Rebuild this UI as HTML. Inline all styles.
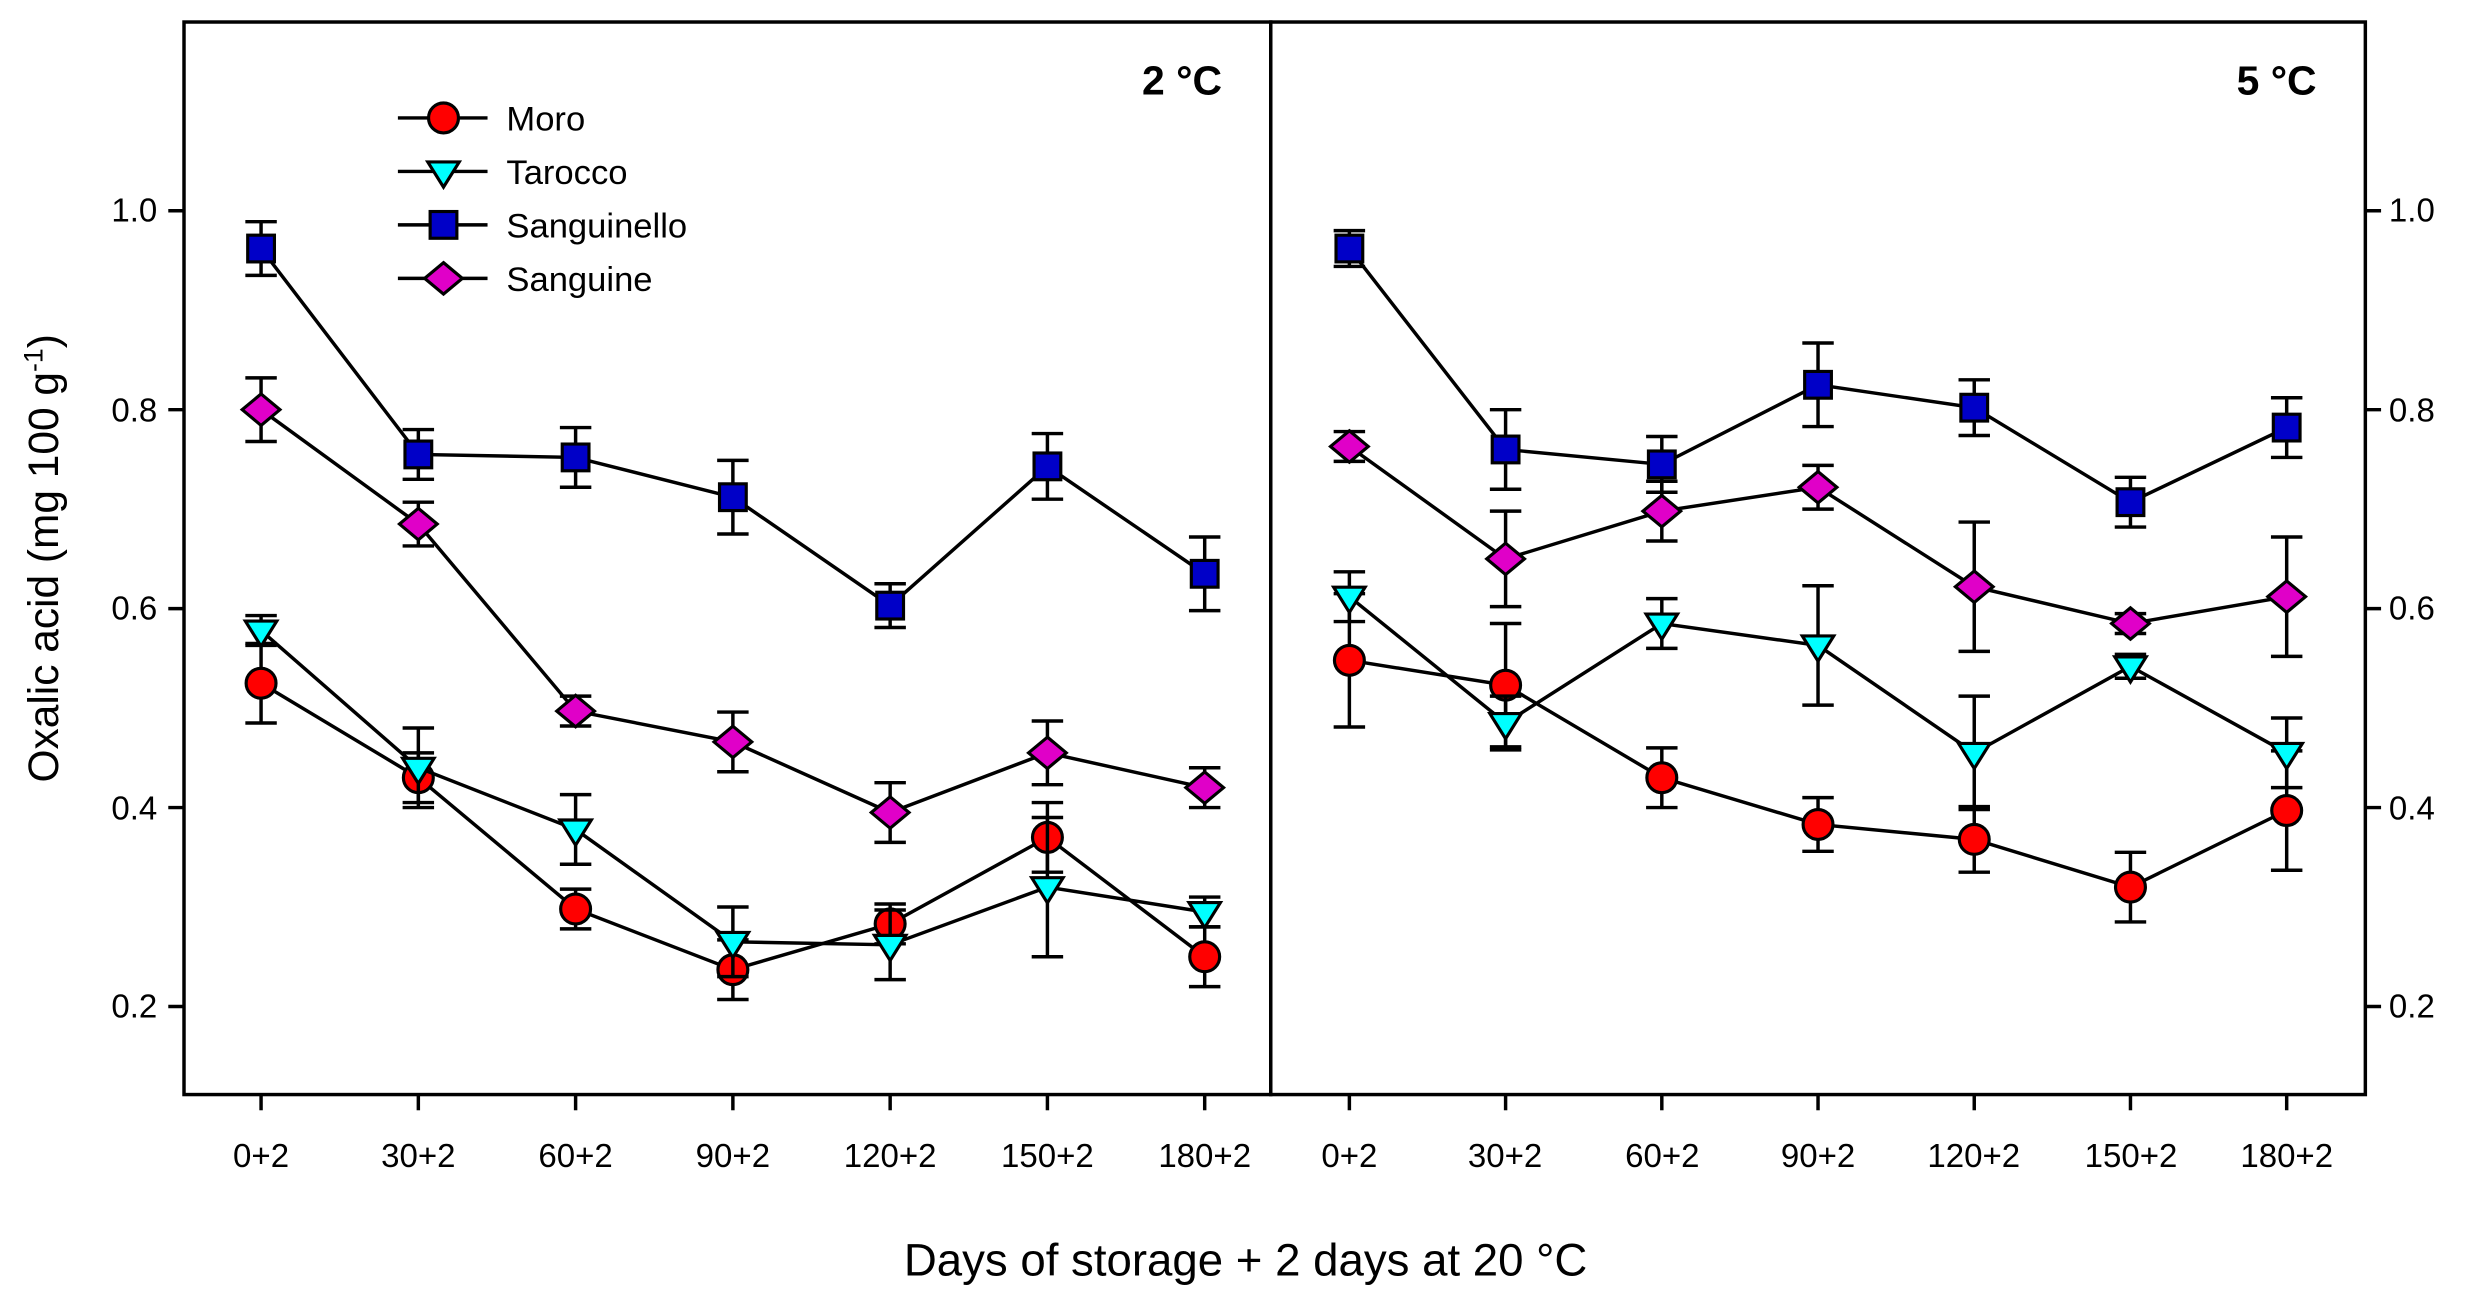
<!DOCTYPE html>
<html><head><meta charset="utf-8"><style>html,body{margin:0;padding:0;background:#fff}svg{display:block}text{font-family:"Liberation Sans",Arial,sans-serif}</style></head>
<body>
<svg id="s" width="2466" height="1299" viewBox="0 0 1568 826" preserveAspectRatio="none" xmlns="http://www.w3.org/2000/svg">
<rect x="0" y="0" width="1568" height="826" fill="#fff"/>
<g fill="none" stroke="#000" stroke-width="2.2">
<rect x="117" y="14" width="691" height="682"/>
<rect x="808" y="14" width="696" height="682"/>
</g>
<g id="ticks" stroke="#000" stroke-width="2.2"></g>
<g font-size="21" text-anchor="end">
<text x="100" y="141">1.0</text><text x="100" y="268">0.8</text><text x="100" y="394">0.6</text><text x="100" y="521">0.4</text><text x="100" y="647">0.2</text>
</g>
<g font-size="21" text-anchor="start">
<text x="1519" y="141">1.0</text><text x="1519" y="268">0.8</text><text x="1519" y="394">0.6</text><text x="1519" y="521">0.4</text><text x="1519" y="647">0.2</text>
</g>
<g font-size="21" text-anchor="middle">
<text x="166" y="742">0+2</text><text x="266" y="742">30+2</text><text x="366" y="742">60+2</text><text x="466" y="742">90+2</text><text x="566" y="742">120+2</text><text x="666" y="742">150+2</text><text x="766" y="742">180+2</text>
<text x="858" y="742">0+2</text><text x="957" y="742">30+2</text><text x="1057" y="742">60+2</text><text x="1156" y="742">90+2</text><text x="1255" y="742">120+2</text><text x="1355" y="742">150+2</text><text x="1454" y="742">180+2</text>
</g>
<text x="792" y="811" font-size="29" text-anchor="middle">Days of storage + 2 days at 20 °C</text>
<text transform="translate(37,355) rotate(-90)" font-size="27" text-anchor="middle">Oxalic acid (mg 100 g<tspan dy="-10" font-size="17">-1</tspan><tspan dy="10">)</tspan></text>
<text x="777" y="60" font-size="26" font-weight="bold" text-anchor="end">2 °C</text>
<text x="1473" y="60" font-size="26" font-weight="bold" text-anchor="end">5 °C</text>
<g font-size="22">
<text x="322" y="83">Moro</text><text x="322" y="117">Tarocco</text><text x="322" y="151">Sanguinello</text><text x="322" y="185">Sanguine</text>
</g>
<g id="plot"></g>
</svg>
<script>
var NS="http://www.w3.org/2000/svg";
function el(p,t,a){var e=document.createElementNS(NS,t);for(var k in a)e.setAttribute(k,a[k]);p.appendChild(e);return e;}
function Y(v){return 134+(1.0-v)*632.5;}
var tk=document.getElementById('ticks');
[1.0,0.8,0.6,0.4,0.2].forEach(function(v){el(tk,'line',{x1:107,x2:117,y1:Y(v),y2:Y(v)});el(tk,'line',{x1:1504,x2:1514,y1:Y(v),y2:Y(v)});});
for(var i=0;i<7;i++){var a=166+100*i,b=858+99.33*i;el(tk,'line',{x1:a,x2:a,y1:696,y2:706});el(tk,'line',{x1:b,x2:b,y1:696,y2:706});}
var P=document.getElementById('plot');
function marker(g,type,x,y){
 var st={stroke:'#000','stroke-width':2};
 if(type==0){el(g,'ellipse',Object.assign({cx:x,cy:y,rx:9.5,ry:9.5,fill:'#ff0000'},st));}
 else if(type==1){el(g,'polygon',Object.assign({points:(x-10)+','+(y-6)+' '+(x+10)+','+(y-6)+' '+x+','+(y+10),fill:'#00ffff'},st));}
 else if(type==2){el(g,'rect',Object.assign({x:x-8.5,y:y-8.5,width:17,height:17,fill:'#0000c8'},st));}
 else {el(g,'polygon',Object.assign({points:x+','+(y-10)+' '+(x+12)+','+y+' '+x+','+(y+10)+' '+(x-12)+','+y,fill:'#e000c8'},st));}
}
var L=[
[[.525,.04],[.43,.025],[.298,.02],[.237,.03],[.283,.02],[.37,.035],[.25,.03]],
[[.578,.015],[.44,.04],[.378,.035],[.265,.035],[.262,.035],[.32,.07],[.295,.015]],
[[.962,.027],[.755,.025],[.752,.03],[.712,.037],[.603,.022],[.743,.033],[.635,.037]],
[[.8,.032],[.685,.022],[.497,.015],[.466,.03],[.395,.03],[.455,.032],[.42,.02]]];
var R=[
[[.548,.067],[.523,.062],[.43,.03],[.383,.027],[.368,.033],[.32,.035],[.397,.06]],
[[.612,.025],[.485,.027],[.585,.025],[.563,.06],[.455,.057],[.542,.012],[.455,.035]],
[[.962,.018],[.76,.04],[.745,.028],[.825,.042],[.802,.028],[.707,.025],[.782,.03]],
[[.763,.015],[.65,.048],[.698,.03],[.722,.022],[.622,.065],[.585,.01],[.612,.06]]];
function draw(D,x0,dx){
 for(var s=0;s<4;s++){
  var g=el(P,'g',{}),pts=[];
  D[s].forEach(function(d,i){var x=x0+dx*i;pts.push(x+','+Y(d[0]));
   var t=Y(d[0]+d[1]),b=Y(d[0]-d[1]);
   el(g,'line',{x1:x,x2:x,y1:t,y2:b,stroke:'#000','stroke-width':2.2});
   el(g,'line',{x1:x-10,x2:x+10,y1:t,y2:t,stroke:'#000','stroke-width':2.2});
   el(g,'line',{x1:x-10,x2:x+10,y1:b,y2:b,stroke:'#000','stroke-width':2.2});});
  el(g,'polyline',{points:pts.join(' '),fill:'none',stroke:'#000','stroke-width':2.2});
  D[s].forEach(function(d,i){marker(g,s,x0+dx*i,Y(d[0]));});
 }
}
draw(L,166,100);draw(R,858,99.33);
var lg=el(P,'g',{});
[75,109,143,177].forEach(function(y,i){el(lg,'line',{x1:253,x2:310,y1:y,y2:y,stroke:'#000','stroke-width':2.2});marker(lg,i,282,y);});
</script>
</body></html>
